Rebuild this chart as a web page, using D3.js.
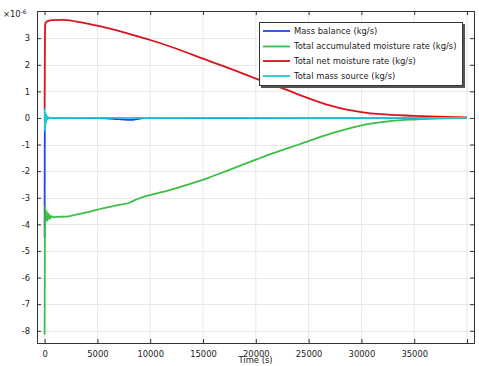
<!DOCTYPE html>
<html><head><meta charset="utf-8">
<script src="https://cdn.jsdelivr.net/npm/d3@7"></script>
<style>body{margin:0;background:#fff}svg{display:block}text{font-family:"DejaVu Sans",sans-serif;fill:#222}</style>
</head><body><svg id="c" width="479" height="366"></svg>
<script>
// ---- data (values in 1e-6 kg/s) ----
const seriesNames = ["Mass balance (kg/s)","Total accumulated moisture rate (kg/s)","Total net moisture rate (kg/s)","Total mass source (kg/s)"];
const seriesColors = ["#1f48e8","#3bbf45","#d9141b","#1fc9d3"];
const massBalance = [[0,-4.5],[15,-1.0],[30,0.05],[60,0.18],[100,0.12],[150,0.05],[250,0.0],[1000,0.0],[5000,-0.01],[6500,-0.03],[7500,-0.06],[8200,-0.07],[8800,-0.04],[9500,0],[15000,-0.01],[25000,0],[40000,0]];
const accumRate = [[0,-8.15],[20,-5.5],[40,-3.3],[120,-3.9],[200,-3.5],[280,-3.85],[380,-3.6],[480,-3.8],[600,-3.68],[750,-3.74],[1000,-3.72],[2000,-3.71],[3000,-3.63],[4300,-3.52],[5500,-3.4],[7000,-3.27],[8100,-3.18],[8600,-3.08],[9000,-3.02],[10000,-2.9],[11500,-2.75],[12800,-2.6],[14000,-2.45],[15500,-2.25],[17500,-1.95],[20000,-1.57],[21300,-1.37],[24200,-0.98],[27000,-0.6],[28500,-0.43],[30000,-0.28],[32700,-0.12],[35000,-0.06],[38000,-0.02],[40000,-0.01]];
const netRate = [[0,0.3],[15,1.5],[40,3.4],[100,3.58],[300,3.64],[800,3.68],[1800,3.69],[2500,3.66],[3300,3.6],[4300,3.53],[5500,3.42],[7000,3.27],[8500,3.1],[10000,2.93],[12500,2.6],[15000,2.23],[17500,1.86],[20000,1.48],[22500,1.12],[25400,0.68],[27000,0.47],[28600,0.31],[30000,0.22],[31800,0.14],[35000,0.08],[38000,0.04],[40000,0.02]];
const massSource = [[0,0],[10,0.35],[30,-0.5],[55,0.25],[85,-0.3],[120,0.15],[160,-0.15],[210,0.08],[270,-0.05],[350,0.02],[500,0],[40000,0]];
const xTicks = [0,5000,10000,15000,20000,25000,30000,35000,40000];
const xTickLabels = ["0","5000","10000","15000","20000","25000","30000","35000",""];
const yTicks = [-8,-7,-6,-5,-4,-3,-2,-1,0,1,2,3];
const xLabel = "Time (s)";

const FS = 8.4;
const svg = d3.select("#c");
const L=37,R=474,T=11,B=343;
const x = d3.scaleLinear().domain([-720,40660]).range([L,R]);
const y = d3.scaleLinear().domain([-8.46,4.02]).range([B,T]);

// grid
const g = svg.append("g");
g.selectAll(".gx").data(xTicks).join("line").attr("x1",d=>x(d)).attr("x2",d=>x(d)).attr("y1",T).attr("y2",B).attr("stroke","#e8e8e8").attr("stroke-width",1);
g.selectAll(".gy").data(yTicks).join("line").attr("y1",d=>Math.round(y(d))+0.5).attr("y2",d=>Math.round(y(d))+0.5).attr("x1",L).attr("x2",R).attr("stroke","#e8e8e8").attr("stroke-width",1);

// lines
const line = d3.line().x(d=>x(d[0])).y(d=>y(d[1])).curve(d3.curveMonotoneX);
const all = [massBalance,accumRate,netRate,massSource];
svg.append("clipPath").attr("id","cp").append("rect").attr("x",L).attr("y",T).attr("width",R-L).attr("height",B-T);
all.forEach((s,i)=>{
  svg.append("path").datum(s).attr("d",line).attr("fill","none").attr("stroke",seriesColors[i]).attr("stroke-width",1.8).attr("stroke-linejoin","round").attr("clip-path","url(#cp)");
});

// axes (ticks inward)
const fc="#333";
const axB = d3.axisBottom(x).tickValues(xTicks).tickSize(-4).tickPadding(8).tickFormat((d,i)=>xTickLabels[i]);
const axT = d3.axisTop(x).tickValues(xTicks).tickSize(-4).tickFormat("");
const axL = d3.axisLeft(y).tickValues(yTicks).tickSize(-4).tickPadding(7).tickFormat(d=>d<0?"-"+Math.abs(d):String(d));
const axR = d3.axisRight(y).tickValues(yTicks).tickSize(-4).tickFormat("");
[[axB,`translate(0,${B})`],[axT,`translate(0,${T})`],[axL,`translate(${L},0)`],[axR,`translate(${R},0)`]].forEach(([a,t])=>{
  const gg = svg.append("g").attr("transform",t).call(a);
  gg.select(".domain").attr("stroke",fc);
  gg.selectAll(".tick line").attr("stroke",fc);
  gg.selectAll("text").attr("font-size",FS).attr("fill","#222").style("font-family","DejaVu Sans");
});

// multiplier
const m = svg.append("text").attr("x",3).attr("y",17).attr("font-size",FS);
m.append("tspan").text("×10");
m.append("tspan").attr("dy",-3.5).attr("font-size",6).text("-6");

// x label
svg.append("text").attr("x",(L+R)/2).attr("y",363).attr("text-anchor","middle").attr("font-size",FS).text(xLabel);

// legend
const lg = svg.append("g");
lg.append("rect").attr("x",261).attr("y",24).attr("width",204).attr("height",64).attr("fill","#555");
lg.append("rect").attr("x",259.5).attr("y",22.5).attr("width",203).attr("height",63).attr("fill","#fff").attr("stroke","#333");
const rows=[31,46.5,61,76];
seriesNames.forEach((n,i)=>{
  lg.append("line").attr("x1",263).attr("x2",290).attr("y1",rows[i]).attr("y2",rows[i]).attr("stroke",seriesColors[i]).attr("stroke-width",1.8);
  lg.append("text").attr("x",294).attr("y",rows[i]).attr("dy","0.35em").attr("font-size",FS).text(n);
});
</script></body></html>
